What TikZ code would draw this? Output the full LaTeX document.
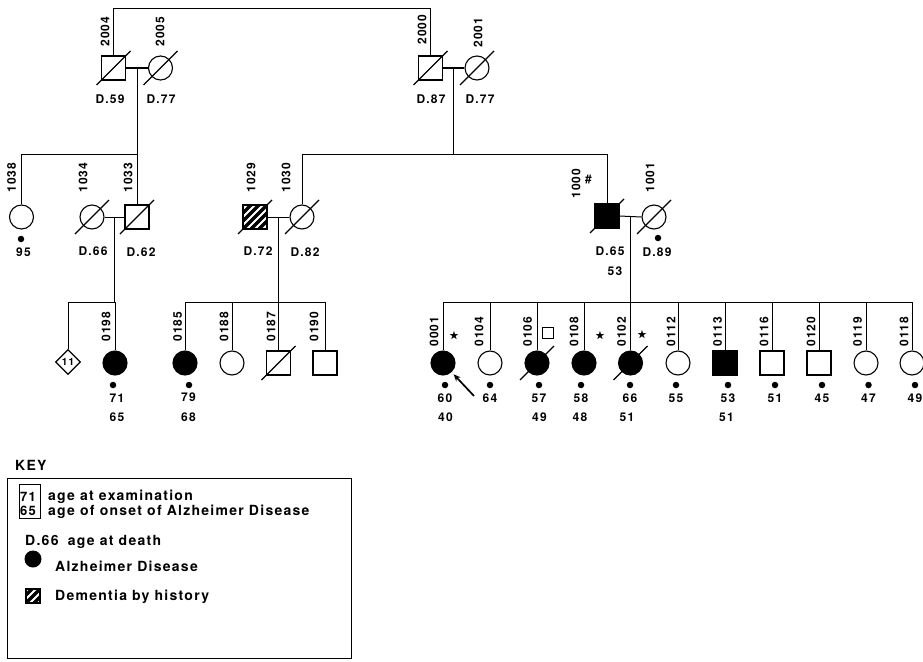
\documentclass[tikz,border=0pt]{standalone}
\usepackage{fontspec}
\usepackage{amssymb}
\setmainfont{TeX Gyre Heros}
\newfontfamily\pedfont[LetterSpace=10]{TeX Gyre Heros}
\newfontfamily\keyfont[LetterSpace=9]{TeX Gyre Heros}
\usetikzlibrary{shapes.geometric, arrows.meta, calc}
\tikzset{
  >={Stealth[length=7pt, width=6pt]},
  male/.style={rectangle, draw, line width=1.1pt, minimum size=24pt, inner sep=0pt},
  female/.style={circle, draw, line width=1.1pt, minimum size=24pt, inner sep=0pt},
  sexunknown/.style={diamond, draw, line width=1.1pt, minimum width=25pt,
    minimum height=25pt, inner sep=0pt, font=\pedfont\bfseries\fontsize{10}{10}\selectfont},
  affected/.style={fill=black},
  maleaff/.style={male, affected},
  femaleaff/.style={female, affected},
  kinline/.style={line width=1pt},
  idlabel/.style={rotate=90, anchor=west, inner sep=0pt,
    font=\pedfont\bfseries\fontsize{12}{13}\selectfont},
  agelabel/.style={inner sep=0pt, font=\pedfont\bfseries\fontsize{12}{13}\selectfont},
  exammark/.style={circle, fill=black, minimum size=6.5pt, inner sep=0pt},
  starmark/.style={inner sep=0pt, font=\fontsize{10}{10}\selectfont},
  keytext/.style={anchor=west, inner sep=0pt, font=\keyfont\bfseries\fontsize{14}{15}\selectfont}
}
\newcommand{\deceased}[1]{%
  \draw[line width=1.1pt] ([xshift=-17pt,yshift=-17pt]#1.center) -- ([xshift=17pt,yshift=17pt]#1.center);}
\newcommand{\hatched}[1]{%
  \begin{scope}
    \clip (#1.south west) rectangle (#1.north east);
    \foreach \k in {-24,-16,...,24}
      \draw[line width=3.5pt] ([xshift=\k pt]#1.south west) -- ([xshift=\k pt]#1.north east);
  \end{scope}}

\begin{document}
\begin{tikzpicture}[x=1pt, y=-1pt]
\useasboundingbox (0,0) rectangle (923,661);

% Generation I
\node[male] (p2004) at (113.5,68) {};
\node[female] (p2005) at (160.5,68) {};
\node[male] (p2000) at (430.5,68) {};
\node[female] (p2001) at (477,68) {};
\foreach \n in {p2004,p2005,p2000,p2001} {\deceased{\n}}
\node[idlabel] (l2004) at (105,47) {2004};
\node[idlabel] (l2005) at (160,47) {2005};
\node[idlabel] (l2000) at (422,45) {2000};
\node[idlabel] (l2001) at (478,48) {2001};
\node[agelabel] (d2004) at (110,99) {D.59};
\node[agelabel] (d2005) at (161,99) {D.77};
\node[agelabel] (d2000) at (431,99) {D.87};
\node[agelabel] (d2001) at (480,99) {D.77};

% Generation II
\node[female] (p1038) at (21.5,217) {};
\node[female] (p1034) at (92,217) {};
\node[male] (p1033) at (137,217) {};
\node[male] (p1029) at (255,217) {};
\hatched{p1029}
\node[male] (p1029b) at (255,217) {};
\node[female] (p1030) at (302,217) {};
\node[maleaff] (p1000) at (607,216) {};
\node[female] (p1001) at (654,217) {};
\foreach \n in {p1034,p1033,p1029,p1030,p1000,p1001} {\deceased{\n}}
\node[idlabel] (l1038) at (11.5,193) {1038};
\node[idlabel] (l1034) at (83,193) {1034};
\node[idlabel] (l1033) at (128,193) {1033};
\node[idlabel] (l1029) at (251,193) {1029};
\node[idlabel] (l1030) at (286,193) {1030};
\node[idlabel] (l1000) at (576,199) {1000};
\node[agelabel] (hash1000) at (588.5,180) {\#};
\node[idlabel] (l1001) at (650,193) {1001};
\node[exammark] (e1038) at (21,239) {};
\node[agelabel] (a1038) at (23.5,252) {95};
\node[agelabel] (d1034) at (93,251) {D.66};
\node[agelabel] (d1033) at (141,252) {D.62};
\node[agelabel] (d1029) at (258,251) {D.72};
\node[agelabel] (d1030) at (305,252) {D.82};
\node[agelabel] (d1000) at (610,251) {D.65};
\node[agelabel] (o1000) at (615,271) {53};
\node[exammark] (e1001) at (658,238) {};
\node[agelabel] (d1001) at (657,252) {D.89};

% Generation III
\node[sexunknown] (p11) at (68,362) {11};
\node[femaleaff] (p0198) at (115,363) {};
\node[femaleaff] (p0185) at (185,363) {};
\node[female] (p0188) at (232,363) {};
\node[male] (p0187) at (278.5,363) {};
\deceased{p0187}
\node[male] (p0190) at (325,363) {};
\foreach \n/\x in {0198/106, 0185/177.5, 0188/224, 0187/271, 0190/314}
  \node[idlabel] (l\n) at (\x,342) {\n};
\node[exammark] (e0198) at (113,385) {};
\node[agelabel] (a0198) at (117,398) {71};
\node[agelabel] (o0198) at (117,417) {65};
\node[exammark] (e0185) at (189,385) {};
\node[agelabel] (a0185) at (188.5,397) {79};
\node[agelabel] (o0185) at (188.5,417) {68};

% sibship of 1000 x 1001
\foreach \n/\x/\s in {0001/443/femaleaff, 0104/490/female,
    0106/537/femaleaff, 0108/584/femaleaff,
    0102/630.5/femaleaff, 0112/678/female, 0113/725/maleaff,
    0116/772/male, 0120/819/male, 0119/866/female, 0118/912/female}
  \node[\s] (p\n) at (\x,363) {};
\deceased{p0106}
\deceased{p0102}
\foreach \n/\x in {0001/434, 0104/479, 0106/527.5, 0108/574, 0102/621.5, 0112/671,
    0113/717.5, 0116/764, 0120/811, 0119/857.5, 0118/904}
  \node[idlabel] (l\n) at (\x,347) {\n};
\foreach \n/\x/\a in {0001/445/60, 0104/490/64, 0106/539/57, 0108/581/58,
    0102/630/66, 0112/676/55, 0113/728/53, 0116/775/51, 0120/822/45,
    0119/868.5/47, 0118/915/49} {
  \node[exammark] (e\n) at (\x,385) {};
  \node[agelabel] (a\n) at (\x,398) {\a};
}
\node[agelabel] (o0001) at (445.5,417) {40};
\node[agelabel] (o0106) at (539.5,417) {49};
\node[agelabel] (o0108) at (580,417) {48};
\node[agelabel] (o0102) at (627,417) {51};
\node[agelabel] (o0113) at (726.5,417) {51};
\node[starmark] (s0001) at (454,336) {$\bigstar$};
\node[starmark] (s0108) at (600,336) {$\bigstar$};
\node[starmark] (s0102) at (642,335) {$\bigstar$};
\node[rectangle, draw, line width=1pt, minimum size=11pt, inner sep=0pt] (q0106) at (548,333) {};

% proband
\coordinate (probtail) at (474,396);
\draw[->, line width=1.7pt, shorten >=3pt] (probtail) -- (p0001);

% Lines of descent
\draw[kinline] (p2004.north) -- ++(0,-47) -| (p2000.north);
\draw[kinline] (p2004.east) -- (p2005.west);
\draw[kinline] (p2000.east) -- (p2001.west);
\coordinate (m1) at ($(p2004.east)!0.5!(p2005.west)$);
\coordinate (m2) at ($(p2000.east)!0.5!(p2001.west)$);
\draw[kinline] (m1) -- ++(0,87);
\draw[kinline] (m2) -- ++(0,87);
\draw[kinline] (p1038.north) -- ++(0,-50) -| (p1033.north);
\draw[kinline] (p1030.north) -- ++(0,-50) -| (p1000.north);

\draw[kinline] (p1034.east) -- (p1033.west);
\draw[kinline] (p1029.east) -- (p1030.west);
\draw[kinline] (p1000.east) -- (p1001.west);
\coordinate (m3) at ($(p1034.east)!0.5!(p1033.west)$);
\coordinate (m4) at ($(p1029.east)!0.5!(p1030.west)$);
\coordinate (m5) at ($(p1000.east)!0.5!(p1001.west)$);
\draw[kinline] (m3) -- ++(0,86);
\draw[kinline] (m4) -- ++(0,86);
\draw[kinline] (m5) -- ++(0,86);
\draw[kinline] (p11.north) -- ++(0,-46.5) -| (p0198.north);
\draw[kinline] (p0185.north) -- ++(0,-48) -| (p0190.north);
\foreach \n in {0188,0187} \draw[kinline] (p\n.north) -- ++(0,-48);
\draw[kinline] (p0001.north) -- ++(0,-48) -| (p0118.north);
\foreach \n in {0104,0106,0108,0102,0112,0113,0116,0120,0119}
  \draw[kinline] (p\n.north) -- ++(0,-48);

% Key
\node[anchor=west, inner sep=0pt, font=\keyfont\bfseries\fontsize{14}{14}\selectfont] (keyhead) at (15,465) {KEY};
\draw[line width=1pt] (7,478) rectangle (351,658);
\draw[line width=0.9pt] (19,484) rectangle (40,518);
\node[keytext, font=\keyfont\bfseries\fontsize{13}{13}\selectfont] (keyexam) at (20,497) {71};
\node[keytext, font=\keyfont\bfseries\fontsize{13}{13}\selectfont] (keyonset) at (20,511) {65};
\node[keytext] (keyexamtxt) at (48,497) {age at examination};
\node[keytext] (keyonsettxt) at (48,512) {age of onset of Alzheimer Disease};
\node[keytext] (keydeath) at (25,542) {D.66\hspace{0.3em} age at death};
\node[circle, fill=black, minimum size=17pt, inner sep=0pt] (keyad) at (33,559) {};
\node[keytext] (keyadtxt) at (55,566) {Alzheimer Disease};
\node[rectangle, minimum size=14pt, inner sep=0pt] (keydem) at (33,596) {};
\hatched{keydem}
\node[rectangle, draw, line width=1.1pt, minimum size=14pt, inner sep=0pt] (keydemb) at (33,596) {};
\node[keytext] (keydemtxt) at (55,597) {Dementia by history};

\end{tikzpicture}
\end{document}
